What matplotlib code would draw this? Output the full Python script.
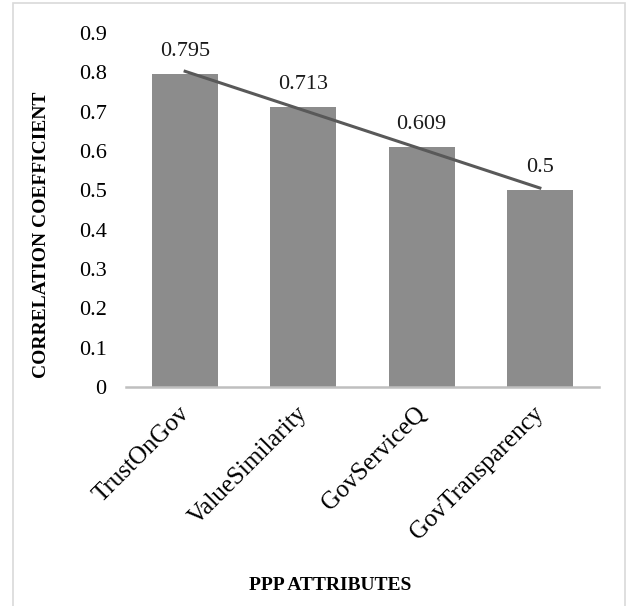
import numpy as np
from matplotlib import pyplot as plt
from matplotlib.patches import Rectangle
from matplotlib.transforms import ScaledTranslation

attributes = ['TrustOnGov', 'ValueSimilarity', 'GovServiceQ', 'GovTransparency']
coefficients = [0.795, 0.713, 0.609, 0.5]
value_labels = ['0.795', '0.713', '0.609', '0.5']
y_ticks = [0, 0.1, 0.2, 0.3, 0.4, 0.5, 0.6, 0.7, 0.8, 0.9]

plt.rcParams['font.family'] = ['Liberation Serif', 'DejaVu Serif']

W, H = 628, 606
fig = plt.figure(figsize=(W / 100, H / 100), dpi=100)
ax = fig.add_axes([126 / W, 1 - 387 / H, 473 / W, 354 / H])

x = np.arange(len(attributes))
ax.bar(x, coefficients, width=0.56, color='#8c8c8c', zorder=2)

# linear trend line through the bar values
slope, intercept = np.polyfit(x, coefficients, 1)
ax.plot(x, slope * x + intercept, color='#595959', linewidth=2.2, zorder=3)

for xi, v, lab in zip(x, coefficients, value_labels):
    ax.text(xi, v + 0.033, lab, ha='center', va='bottom', fontsize=16, color='#1a1a1a')

ax.set_xlim(-0.5, len(attributes) - 0.5)
ax.set_ylim(0, 0.9)
ax.set_yticks(y_ticks)
ax.set_yticklabels(['0' if t == 0 else '%.1f' % t for t in y_ticks], fontsize=16)
ax.set_xticks(x)
ax.set_xticklabels(attributes, rotation=45, ha='right', va='top',
                   rotation_mode='anchor', fontsize=18)
ax.tick_params(axis='both', length=0)
ax.tick_params(axis='y', pad=14)
ax.tick_params(axis='x', pad=11)
shift = ScaledTranslation(-7 / 100, 0, fig.dpi_scale_trans)
for lbl in ax.get_xticklabels():
    lbl.set_transform(lbl.get_transform() + shift)

for s in ['top', 'right', 'left']:
    ax.spines[s].set_visible(False)
ax.spines['bottom'].set_color('#bfbfbf')
ax.spines['bottom'].set_linewidth(1.8)

fig.text(42 / W, 1 - 235 / H, 'CORRELATION COEFFICIENT', rotation=90,
         ha='center', va='center', fontsize=14, fontweight='bold')
fig.text(330 / W, 1 - 585 / H, 'PPP ATTRIBUTES', ha='center', va='center',
         fontsize=14, fontweight='bold')

# outer chart border
fig.patches.append(Rectangle((13 / W, -0.05), (625 - 13) / W, 1.05 - 3 / H,
                             transform=fig.transFigure, fill=False,
                             edgecolor='#d9d9d9', linewidth=1.2))

fig.savefig('out.png', dpi=100)
